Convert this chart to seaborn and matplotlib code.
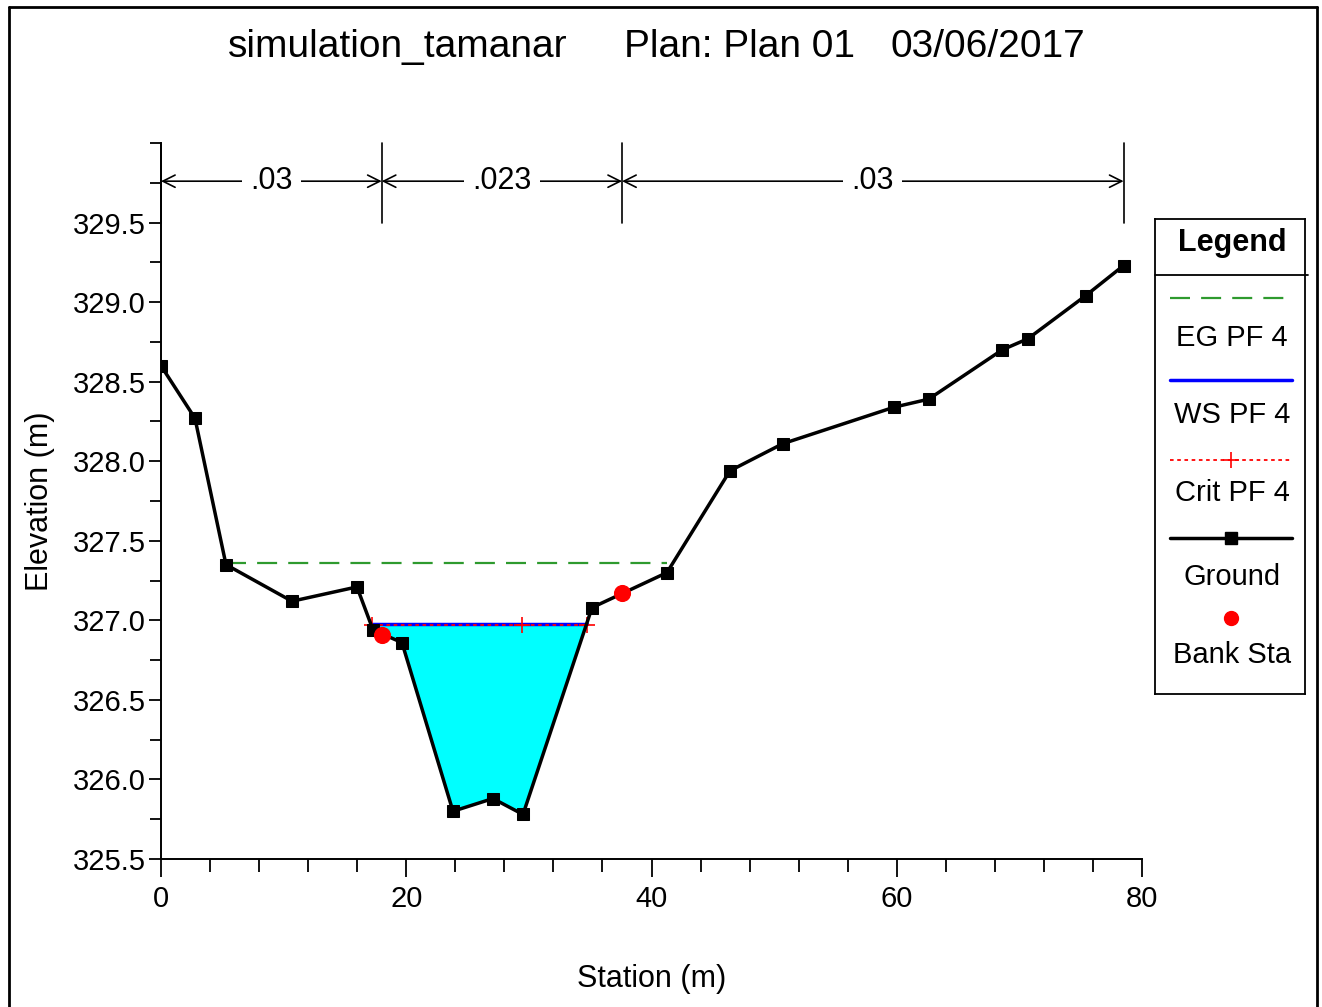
import matplotlib
matplotlib.use("Agg")
import matplotlib.pyplot as plt
from matplotlib.ticker import MultipleLocator, FormatStrFormatter
from matplotlib.lines import Line2D
import seaborn as sns
import numpy as np
import pandas as pd

# ground profile
station = [0.0, 2.77, 5.30, 10.68, 15.98, 17.29, 19.65, 23.81, 27.07, 29.52,
           35.15, 41.26, 46.4, 50.7, 59.8, 62.6, 68.6, 70.7, 75.4, 78.5]
elevation = [328.60, 328.27, 327.35, 327.12, 327.21, 326.94, 326.86, 325.80, 325.88, 325.78,
             327.08, 327.30, 327.94, 328.11, 328.34, 328.39, 328.70, 328.77, 329.04, 329.23]

# bank stations
bank_x = [18.0, 37.6]
bank_y = [326.91, 327.17]

# water levels
ws_level = 326.98
ws_x = [17.2, 34.7]
crit_level = 326.97
crit_x = [17.2, 29.4, 34.7]
eg_level = 327.36
eg_x = [5.3, 41.3]

# manning's n regions
n_edges = [0.0, 18.0, 37.6, 78.5]
n_values = [".03", ".023", ".03"]

legend_labels = ["EG PF 4", "WS PF 4", "Crit PF 4", "Ground", "Bank Sta"]

sns.set_style("ticks")
plt.rcParams["font.family"] = ["Liberation Sans", "DejaVu Sans"]
plt.rcParams["text.color"] = "black"
plt.rcParams["axes.labelcolor"] = "black"
plt.rcParams["xtick.color"] = "black"
plt.rcParams["ytick.color"] = "black"

fig = plt.figure(figsize=(13.22, 10.07), dpi=100)
ax = fig.add_axes([161 / 1322, 1 - 859 / 1007, 981 / 1322, 716 / 1007])

gdf = pd.DataFrame({"Station": station, "Elevation": elevation})

# water fill
st = np.array(station)
el = np.array(elevation)
ax.fill_between(st, el, ws_level, where=el < ws_level, interpolate=True,
                color="#00FFFF", linewidth=0, zorder=1)

ax.plot(eg_x, [eg_level] * len(eg_x), color="#2E9A2E", lw=1.6,
        dashes=(9, 5), zorder=2)
ax.plot(ws_x, [ws_level] * len(ws_x), color="#0000FF", lw=2.5, zorder=3)
ax.plot(crit_x, [crit_level] * len(crit_x), color="red", lw=1.3,
        linestyle=(0, (2, 2)), marker="+", markersize=12, markeredgewidth=1.2, zorder=4)

sns.lineplot(data=gdf, x="Station", y="Elevation", ax=ax, color="black", lw=2.5,
             marker="s", markersize=9, markeredgecolor="black", estimator=None,
             sort=False, zorder=5)
sns.scatterplot(x=bank_x, y=bank_y, ax=ax, color="red", s=130, marker="o",
                edgecolor="red", zorder=6)

# manning's n bars
for xe in n_edges:
    ax.plot([xe, xe], [329.5, 330.0], color="black", lw=1.2, zorder=6, clip_on=False)
for i, lab in enumerate(n_values):
    x0, x1 = n_edges[i], n_edges[i + 1]
    ax.annotate("", xy=(x1, 329.76), xytext=(x0, 329.76),
                arrowprops=dict(arrowstyle="<->", color="black", lw=1.2,
                                shrinkA=0, shrinkB=0, mutation_scale=22))
    ax.text((x0 + x1) / 2, 329.76, lab, ha="center", va="center", fontsize=22,
            bbox=dict(facecolor="white", edgecolor="none", pad=6), zorder=7)

ax.set_xlim(0, 80)
ax.set_ylim(325.5, 330.0)
ax.xaxis.set_major_locator(MultipleLocator(20))
ax.xaxis.set_minor_locator(MultipleLocator(4))
ax.yaxis.set_major_locator(MultipleLocator(0.5))
ax.yaxis.set_minor_locator(MultipleLocator(0.25))
ax.yaxis.set_major_formatter(FormatStrFormatter("%.1f"))
ax.set_yticks([325.5 + 0.5 * k for k in range(9)])
ax.tick_params(axis="both", which="major", labelsize=21, width=1.3, color="black")
ax.tick_params(axis="x", which="major", length=13, pad=6)
ax.tick_params(axis="y", which="major", length=9, pad=2)
ax.tick_params(axis="x", which="minor", length=9, width=1.3)
ax.tick_params(axis="y", which="minor", length=8, width=1.3)
for s in ["top", "right"]:
    ax.spines[s].set_visible(False)
for s in ["left", "bottom"]:
    ax.spines[s].set_linewidth(1.4)
    ax.spines[s].set_color("black")

ax.set_xlabel("Station (m)", fontsize=22)
ax.xaxis.set_label_coords(0.5, -(964 - 859) / 716)
ax.set_ylabel("Elevation (m)", fontsize=22)
ax.yaxis.set_label_coords(-(161 - 55) / 981, 0.5)

# title
fig.text(398 / 1322, 1 - 47 / 1007, "simulation_tamanar", ha="center", va="center", fontsize=28)
fig.text(740 / 1322, 1 - 47 / 1007, "Plan: Plan 01", ha="center", va="center", fontsize=28)
fig.text(988 / 1322, 1 - 47 / 1007, "03/06/2017", ha="center", va="center", fontsize=28)

# legend panel
lax = fig.add_axes([1155 / 1322, 1 - 694 / 1007, 150 / 1322, 475 / 1007])
lax.set_xlim(0, 150)
lax.set_ylim(475, 0)
lax.set_xticks([])
lax.set_yticks([])
for s in lax.spines.values():
    s.set_linewidth(1.3)
    s.set_color("black")
lax.text(77, 24, "Legend", ha="center", va="center", fontsize=22, fontweight="bold")
lax.add_line(Line2D([0, 153], [56, 56], color="black", lw=1.3, clip_on=False))
lax.plot([15, 137], [79, 79], color="#2E9A2E", lw=1.6, dashes=(9, 5))
lax.plot([15, 137], [161, 161], color="#0000FF", lw=2.5)
lax.plot([15, 137], [241, 241], color="red", lw=1.3, linestyle=(0, (2, 2)))
lax.plot([76], [241], color="red", marker="+", markersize=12, markeredgewidth=1.2)
lax.plot([15, 137], [319, 319], color="black", lw=2.5)
lax.plot([76], [319], color="black", marker="s", markersize=9)
lax.plot([76], [399], color="red", marker="o", markersize=10)
for yy, lab in zip([119, 196, 274, 358, 436], legend_labels):
    lax.text(77, yy, lab, ha="center", va="center", fontsize=21)

# outer frame
fig.add_artist(Line2D([9 / 1322, 9 / 1322], [0, 1 - 7 / 1007], color="black", lw=2))
fig.add_artist(Line2D([9 / 1322, 1317 / 1322], [1 - 7 / 1007, 1 - 7 / 1007], color="black", lw=2))
fig.add_artist(Line2D([1317 / 1322, 1317 / 1322], [0, 1 - 7 / 1007], color="black", lw=2))

fig.savefig("out.png", dpi=100)
